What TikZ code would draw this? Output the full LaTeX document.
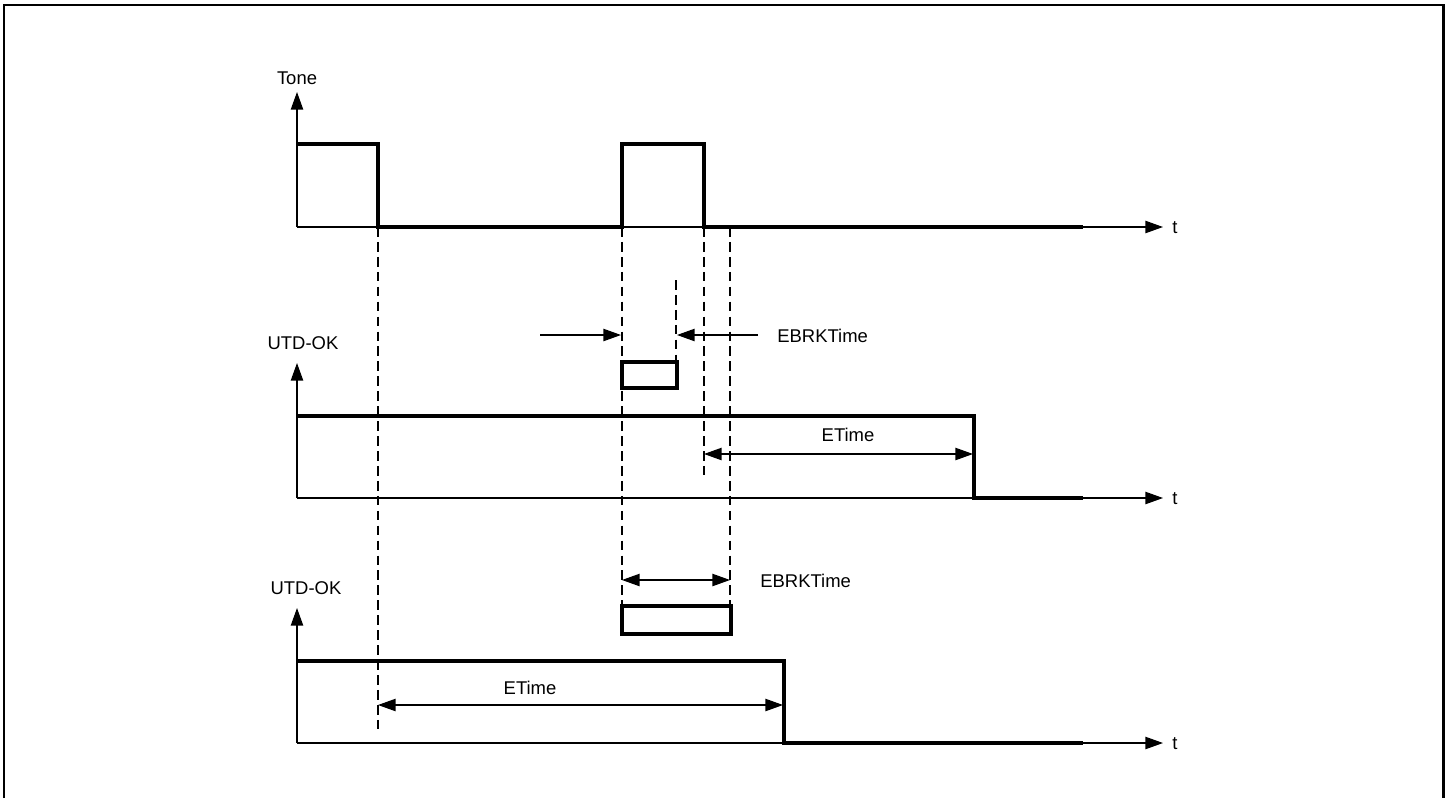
\documentclass[tikz,border=0pt]{standalone}
\usepackage{fontspec}
\setmainfont{Liberation Sans}
\usetikzlibrary{arrows.meta}

\begin{document}
\begin{tikzpicture}[x=0.02cm,y=-0.02cm,>={Triangle[length=10pt,width=7pt]},
  sig/.style={line width=2.3pt,line join=miter},
  axis/.style={line width=0.7pt,->},
  guide/.style={line width=0.7pt,dash pattern=on 5.5pt off 3pt},
  dim/.style={line width=0.7pt},
  lbl/.style={font=\fontsize{10.5}{12}\selectfont,inner sep=0pt}]
\useasboundingbox (0,0) rectangle (1450,798);
\draw[line width=1.7pt] (4,798) -- (4,5) -- (1443,5) -- (1443,798);
% origins of the three traces
\coordinate (o1) at (297,227);
\coordinate (o2) at (297,498);
\coordinate (o3) at (297,743);
% axes
\node[lbl] (tone) at (297,78) {Tone};
\node[lbl] (utd1) at (303,343) {UTD-OK};
\node[lbl] (utd2) at (306,588) {UTD-OK};
\node[lbl,anchor=west] (t1) at (1172,228) {t};
\node[lbl,anchor=west] (t2) at (1172,499) {t};
\node[lbl,anchor=west] (t3) at (1172,744) {t};
\draw[axis] (o1) -- (297,92);
\draw[axis] (o1) -- (1163,227);
\draw[axis] (o2) -- (297,363);
\draw[axis] (o2) -- (1163,498);
\draw[axis] (o3) -- (297,608);
\draw[axis] (o3) -- (1163,743);
% signals
\draw[sig] (297,144) -| (378,227) -| (622,144) -| (704,227) -- (1083,227);
\draw[sig] (297,416) -| (974,498) -- (1083,498);
\draw[sig] (297,661) -| (784,743) -- (1083,743);
% guide lines
\coordinate (fall) at (378,227);
\coordinate (rise) at (622,227);
\coordinate (drop) at (704,227);
\coordinate (late) at (730,227);
\draw[guide] (fall) -- (378,732);
\draw[guide] (rise) -- (622,606);
\draw[guide] (676,280) -- (676,362);
\draw[guide] (drop) -- (704,475);
\draw[guide] (late) -- (730,606);
% break windows
\draw[sig] (622,362) rectangle (677,388);
\draw[sig] (622,606) rectangle (731,634);
\draw[dim,->] (540,335) -- (621,335);
\draw[dim,->] (758,335) -- (677,335);
\node[lbl,anchor=west] (ebrk1) at (777,336) {EBRKTime};
\draw[dim,<->] (622,580) -- (730,580);
\node[lbl,anchor=west] (ebrk2) at (760,581) {EBRKTime};
% end times
\draw[dim,<->] (704,454) -- (973,454);
\node[lbl] (etime1) at (848,435) {ETime};
\draw[dim,<->] (378,705) -- (783,705);
\node[lbl] (etime2) at (530,688) {ETime};
\end{tikzpicture}
\end{document}
